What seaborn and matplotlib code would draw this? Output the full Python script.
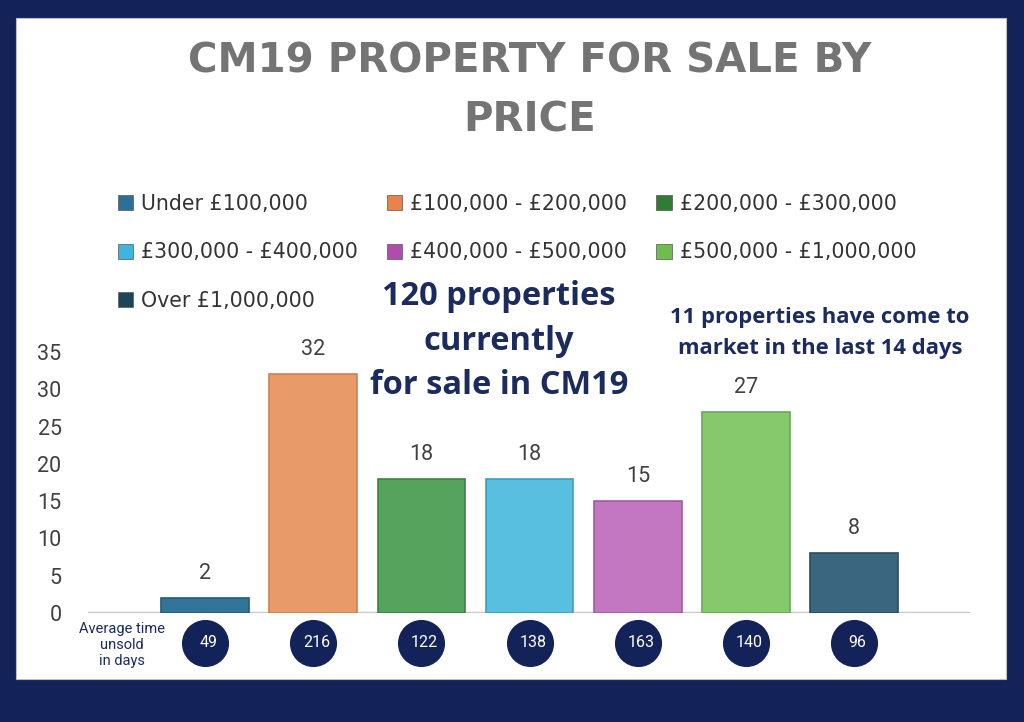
import matplotlib
matplotlib.use("Agg")
import matplotlib.pyplot as plt
from matplotlib.patches import Patch, Rectangle
import seaborn as sns
import pandas as pd

categories = ["Under £100,000", "£100,000 - £200,000", "£200,000 - £300,000",
              "£300,000 - £400,000", "£400,000 - £500,000", "£500,000 - £1,000,000",
              "Over £1,000,000"]
counts = [2, 32, 18, 18, 15, 27, 8]
avg_days = [49, 216, 122, 138, 163, 140, 96]
bar_colors = ["#31759a", "#e89a68", "#55a35d", "#58bfe0", "#c277c0", "#86c86c", "#3b6680"]
legend_colors = ["#2d6f97", "#e8844a", "#2e7d32", "#3fb4e0", "#b04cb0", "#6fbe4c", "#1e4458"]
edge_colors = ["#245a78", "#c98050", "#3d7f45", "#3e9fbf", "#a05ca0", "#68a852", "#2a4d60"]
y_ticks = [0, 5, 10, 15, 20, 25, 30, 35]

NAVY = "#13235a"
TEXT_NAVY = "#1b2b5e"

sns.set_theme(style="white")
plt.rcParams["font.family"] = ["Roboto", "DejaVu Sans"]

W, H = 1024, 722
fig = plt.figure(figsize=(W / 100, H / 100), dpi=100, facecolor=NAVY)
fig.add_artist(Rectangle((16 / W, 1 - 679 / H), (1006 - 16) / W, (679 - 18) / H,
                         transform=fig.transFigure, facecolor="white",
                         edgecolor="#bdbdbd", lw=0.8, zorder=0))

ax = fig.add_axes([88 / W, 1 - 613 / H, 882 / W, (613 - 352) / H])
ax.set_facecolor("none")

df = pd.DataFrame({"cat": categories, "count": counts})
sns.barplot(data=df, x="cat", y="count", hue="cat", hue_order=categories,
            order=categories, palette=bar_colors, width=0.81, ax=ax,
            legend=False, saturation=1)
for p, ec in zip(ax.patches, edge_colors):
    p.set_edgecolor(ec)
    p.set_linewidth(1.2)

for c in ax.containers:
    ax.bar_label(c, padding=10, fontsize=15.5, color="#404040")

ax.set_xlim(-1.082, 7.07)
ax.set_ylim(0, 35)
ax.set_yticks(y_ticks)
ax.set_yticklabels([str(t) for t in y_ticks])
ax.tick_params(axis="y", length=0, pad=19, labelsize=15.5, labelcolor="#404040")
ax.set_xticks([])
ax.set_xlabel("")
ax.set_ylabel("")
for s in ax.spines.values():
    s.set_visible(False)
ax.axhline(0, color="#c8c8c8", lw=2.5, zorder=0.5)

# average days circles
xs = list(range(len(avg_days)))
ax.scatter(xs, [-4.0] * len(xs), s=1150, color=NAVY, clip_on=False, zorder=5, linewidths=0)
for x, d in zip(xs, avg_days):
    ax.text(x + 0.03, -4.0, str(d), ha="center", va="center", color="white",
            fontsize=11.5, clip_on=False, zorder=6)

fig.text(122 / W, 1 - 645 / H, "Average time\nunsold\nin days", ha="center", va="center",
         fontsize=10.5, color=TEXT_NAVY, linespacing=1.2)

# legend
order = [0, 3, 6, 1, 4, 2, 5]
handles = [Patch(facecolor=legend_colors[i], edgecolor="#555555", lw=0.5) for i in order]
labels = [categories[i] for i in order]
fig.legend(handles, labels, loc="upper left", bbox_to_anchor=(99 / W, 1 - 175 / H),
           ncol=3, frameon=False, handlelength=0.75, handleheight=0.75,
           handletextpad=0.4, columnspacing=1.4, labelspacing=1.4, labelcolor="#333333",
           prop={"family": ["DejaVu Sans"], "size": 14.8})

# title
fig.text(530 / W, 1 - 91 / H, "CM19 PROPERTY FOR SALE BY\nPRICE", ha="center", va="center",
         fontsize=29, fontweight="bold", color="#747474", linespacing=1.6,
         family=["DejaVu Sans"])

# annotations
fig.text(499 / W, 1 - 341 / H, "120 properties\ncurrently\nfor sale in CM19", ha="center",
         va="center", fontsize=23.5, fontweight="bold", color=TEXT_NAVY, linespacing=1.45,
         family=["Open Sans", "DejaVu Sans"])
fig.text(820 / W, 1 - 333 / H, "11 properties have come to\nmarket in the last 14 days",
         ha="center", va="center", fontsize=15.8, fontweight="bold", color=TEXT_NAVY,
         linespacing=1.6, family=["Open Sans", "DejaVu Sans"])

fig.savefig("out.png", dpi=100, facecolor=NAVY)
